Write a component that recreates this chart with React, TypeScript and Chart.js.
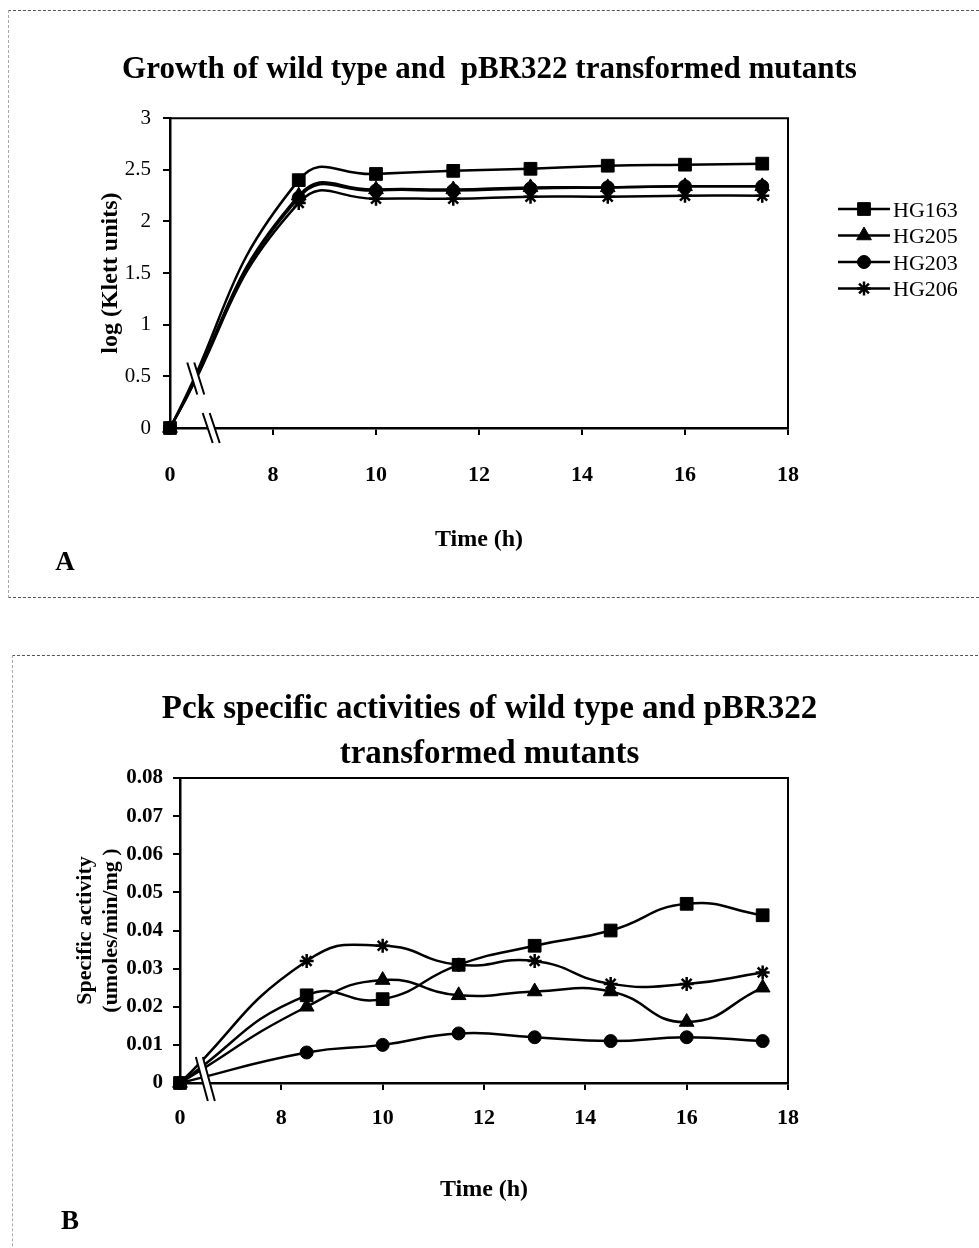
import React, { useEffect, useRef } from 'react';
import { Chart, registerables } from 'chart.js';
import { drawPoint } from 'chart.js/helpers';

Chart.register(...registerables);

const SERIF = "'Liberation Serif', 'Times New Roman', serif";

// ---------- data ----------
const TIMES_H = [0, 8.5, 10, 11.5, 13, 14.5, 16, 17.5];
const TIME_TICK_LABELS = ['0', '8', '10', '12', '14', '16', '18'];
const AXIS_BREAK_AT = 6; // axis position where time 0 is drawn (broken axis 0 // 8)

const STRAINS = ['HG163', 'HG205', 'HG203', 'HG206'];
const MARKER_STYLES = ['rect', 'triangle', 'circle', 'star'];
const MARKER_RADII = [9, 8.5, 6.5, 7];

const GROWTH_HG163 = [0, 2.4, 2.46, 2.49, 2.51, 2.54, 2.55, 2.56];
const GROWTH_HG205 = [0, 2.25, 2.31, 2.31, 2.33, 2.33, 2.34, 2.34];
const GROWTH_HG203 = [0, 2.23, 2.3, 2.3, 2.32, 2.33, 2.34, 2.34];
const GROWTH_HG206 = [0, 2.18, 2.22, 2.22, 2.24, 2.24, 2.25, 2.25];
const GROWTH_TICK_LABELS = ['0', '0.5', '1', '1.5', '2', '2.5', '3'];

const PCK_HG163 = [0, 0.023, 0.022, 0.031, 0.036, 0.04, 0.047, 0.044];
const PCK_HG205 = [0, 0.02, 0.027, 0.023, 0.024, 0.024, 0.016, 0.025];
const PCK_HG203 = [0, 0.008, 0.01, 0.013, 0.012, 0.011, 0.012, 0.011];
const PCK_HG206 = [0, 0.032, 0.036, 0.031, 0.032, 0.026, 0.026, 0.029];
const PCK_TICK_LABELS = ['0', '0.01', '0.02', '0.03', '0.04', '0.05', '0.06', '0.07', '0.08'];

const TITLE_A = 'Growth of wild type and  pBR322 transformed mutants';
const TITLE_B = ['Pck specific activities of wild type and pBR322', 'transformed mutants'];
const Y_TITLE_A = 'log (Klett units)';
const Y_TITLE_B = ['Specific activity', '(umoles/min/mg )'];
const X_TITLE = 'Time (h)';

// ---------- helpers ----------
function toPoints(values: number[]) {
  return TIMES_H.map((t, i) => ({ x: t === 0 ? AXIS_BREAK_AT : t, y: values[i] }));
}

function makeDatasets(series: number[][]) {
  return series.map((vals, i) => ({
    label: STRAINS[i],
    data: toPoints(vals),
    order: series.length - i, // later series drawn on top
    borderColor: '#000',
    borderWidth: 2.5,
    backgroundColor: '#000',
    pointStyle: MARKER_STYLES[i],
    pointRadius: MARKER_RADII[i],
    pointBackgroundColor: '#000',
    pointBorderColor: '#000',
    pointBorderWidth: MARKER_STYLES[i] === 'star' ? 2.5 : 1,
    tension: 0.5,
    clip: false,
  }));
}

function drawBreak(ctx: CanvasRenderingContext2D, cx: number, cy: number, h: number, slant: number, gap: number) {
  const x1 = cx - gap / 2;
  const x2 = cx + gap / 2;
  ctx.save();
  ctx.fillStyle = '#fff';
  ctx.beginPath();
  ctx.moveTo(x1 - slant, cy - h / 2);
  ctx.lineTo(x2 - slant, cy - h / 2);
  ctx.lineTo(x2 + slant, cy + h / 2);
  ctx.lineTo(x1 + slant, cy + h / 2);
  ctx.closePath();
  ctx.fill();
  ctx.strokeStyle = '#000';
  ctx.lineWidth = 2;
  ctx.beginPath();
  ctx.moveTo(x1 - slant, cy - h / 2);
  ctx.lineTo(x1 + slant, cy + h / 2);
  ctx.moveTo(x2 - slant, cy - h / 2);
  ctx.lineTo(x2 + slant, cy + h / 2);
  ctx.stroke();
  ctx.restore();
}

const decorPlugin = {
  id: 'decor',
  beforeDatasetsDraw(chart: any) {
    const { ctx, chartArea: a } = chart;
    ctx.save();
    ctx.strokeStyle = '#000';
    ctx.lineWidth = 2;
    ctx.beginPath();
    ctx.moveTo(a.left, a.top);
    ctx.lineTo(a.right, a.top);
    ctx.lineTo(a.right, a.bottom);
    ctx.stroke();
    ctx.restore();
  },
  afterDatasetsDraw(chart: any, _a: any, opts: any) {
    const { ctx, chartArea: a } = chart;
    const xs = chart.scales.x;
    for (const b of opts.breaks || []) {
      const cx = xs.getPixelForValue(b.at);
      let cy = a.bottom + (b.dy || 0);
      if (b.onLine) {
        const pts = chart.getDatasetMeta(0).data;
        const p0 = pts[0];
        const p1 = pts[1];
        cy = p0.y + ((cx - p0.x) / (p1.x - p0.x)) * (p1.y - p0.y);
      }
      drawBreak(ctx, cx, cy, b.h, b.slant, b.gap);
    }
  },
  afterDraw(chart: any, _a: any, opts: any) {
    const { ctx } = chart;
    const lg = opts.legend;
    if (lg) {
      chart.data.datasets.forEach((ds: any, i: number) => {
        const y = lg.y0 + i * lg.dy;
        ctx.save();
        ctx.strokeStyle = '#000';
        ctx.lineWidth = 2.5;
        ctx.beginPath();
        ctx.moveTo(lg.x0, y);
        ctx.lineTo(lg.x0 + lg.len, y);
        ctx.stroke();
        ctx.fillStyle = '#000';
        ctx.lineWidth = ds.pointStyle === 'star' ? 2.5 : 1;
        drawPoint(ctx, { pointStyle: ds.pointStyle, radius: ds.pointRadius, rotation: 0, borderWidth: ctx.lineWidth }, lg.x0 + lg.len / 2, y);
        ctx.fillStyle = '#000';
        ctx.font = `${lg.size}px ${SERIF}`;
        ctx.textAlign = 'left';
        ctx.textBaseline = 'middle';
        ctx.fillText(ds.label, lg.x0 + lg.len + lg.gap, y + 2);
        ctx.restore();
      });
    }
    const lt = opts.letter;
    if (lt) {
      ctx.save();
      ctx.fillStyle = '#000';
      ctx.font = `bold ${lt.size}px ${SERIF}`;
      ctx.textAlign = 'center';
      ctx.textBaseline = 'middle';
      ctx.fillText(lt.text, lt.x, lt.y);
      ctx.restore();
    }
  },
};

function buildConfig(p: any) {
  return {
    type: 'line',
    data: { datasets: makeDatasets(p.series) },
    plugins: [decorPlugin],
    options: {
      responsive: false,
      animation: false,
      events: [],
      layout: { padding: 0 },
      plugins: {
        legend: { display: false },
        tooltip: { enabled: false },
        title: {
          display: true,
          text: p.title,
          color: '#000',
          font: { family: SERIF, size: p.titleSize, weight: 'bold', lineHeight: p.titleLineHeight },
          padding: p.titlePadding,
        },
        decor: p.decor,
      },
      scales: {
        x: {
          type: 'linear',
          min: AXIS_BREAK_AT,
          max: 18,
          ticks: {
            stepSize: 2,
            color: '#000',
            font: { family: SERIF, size: 22, weight: 'bold' },
            padding: p.xTickPad,
            maxRotation: 0,
            callback: (_v: any, i: number) => TIME_TICK_LABELS[i],
          },
          grid: { drawOnChartArea: false, drawTicks: true, tickLength: 7, color: '#000', lineWidth: 2 },
          border: { display: true, color: '#000', width: 2.5 },
          title: {
            display: true,
            text: X_TITLE,
            color: '#000',
            font: { family: SERIF, size: 24, weight: 'bold', lineHeight: 1.2 },
            padding: { top: 0, bottom: p.xTitlePad },
          },
          afterFit: (s: any) => { s.height = p.xAxisHeight; },
        },
        y: {
          type: 'linear',
          min: 0,
          max: p.yMax,
          ticks: {
            stepSize: p.yStep,
            color: '#000',
            font: { family: SERIF, size: p.yTickSize, weight: p.yTickWeight },
            padding: p.yTickPad,
            callback: (_v: any, i: number) => p.yLabels[i],
          },
          grid: { drawOnChartArea: false, drawTicks: true, tickLength: 7, color: '#000', lineWidth: 2 },
          border: { display: true, color: '#000', width: 2.5 },
          title: {
            display: true,
            text: p.yTitle,
            color: '#000',
            font: { family: SERIF, size: p.yTitleSize, weight: 'bold', lineHeight: p.yTitleLineHeight },
            padding: { top: p.yTitlePad, bottom: 0 },
          },
          afterFit: (s: any) => { s.width = p.yAxisWidth; },
        },
        legendSpace: {
          type: 'linear',
          position: 'right',
          display: true,
          grid: { display: false },
          ticks: { display: false },
          border: { display: false },
          afterFit: (s: any) => { s.width = p.rightSpace; },
        },
      },
    },
  };
}

const CONFIG_A = {
  series: [GROWTH_HG163, GROWTH_HG205, GROWTH_HG203, GROWTH_HG206],
  title: TITLE_A,
  titleSize: 31,
  titleLineHeight: 1.2,
  titlePadding: { top: 51, bottom: 30 },
  yMax: 3,
  yStep: 0.5,
  yLabels: GROWTH_TICK_LABELS,
  yTickSize: 21,
  yTickWeight: 'normal',
  yTickPad: 12,
  yTitle: Y_TITLE_A,
  yTitleSize: 24,
  yTitleLineHeight: 1.2,
  yTitlePad: 96,
  yAxisWidth: 170,
  rightSpace: 191,
  xAxisHeight: 172,
  xTickPad: 27,
  xTitlePad: 46,
  decor: {
    breaks: [
      { at: 6.5, onLine: true, h: 32, slant: 5, gap: 7 },
      { at: 6.8, h: 30, slant: 5, gap: 7 },
    ],
    legend: { x0: 838, y0: 209, dy: 26.5, len: 52, gap: 3, size: 22 },
    letter: { text: 'A', x: 65, y: 563, size: 27 },
  },
};

const CONFIG_B = {
  series: [PCK_HG163, PCK_HG205, PCK_HG203, PCK_HG206],
  title: TITLE_B,
  titleSize: 33,
  titleLineHeight: 1.364,
  titlePadding: { top: 87, bottom: 1 },
  yMax: 0.08,
  yStep: 0.01,
  yLabels: PCK_TICK_LABELS,
  yTickSize: 21,
  yTickWeight: 'bold',
  yTickPad: 10,
  yTitle: Y_TITLE_B,
  yTitleSize: 22,
  yTitleLineHeight: 1.18,
  yTitlePad: 72,
  yAxisWidth: 180,
  rightSpace: 191,
  xAxisHeight: 165,
  xTickPad: 15,
  xTitlePad: 44,
  decor: {
    breaks: [{ at: 6.5, dy: -4, h: 44, slant: 6, gap: 7 }],
    legend: { x0: 820, y0: 882, dy: 41.5, len: 54, gap: 4, size: 23 },
    letter: { text: 'B', x: 70, y: 622, size: 27 },
  },
};

export default function App() {
  const refA = useRef<HTMLCanvasElement | null>(null);
  const refB = useRef<HTMLCanvasElement | null>(null);

  useEffect(() => {
    const a = new Chart(refA.current as any, buildConfig(CONFIG_A) as any);
    const b = new Chart(refB.current as any, buildConfig(CONFIG_B) as any);
    return () => {
      a.destroy();
      b.destroy();
    };
  }, []);

  return (
    <div style={{ position: 'absolute', left: 0, top: 0, width: 979, height: 1248, overflow: 'hidden', background: '#fff' }}>
      <div
        style={{
          position: 'absolute', left: 8, top: 10, width: 1000, height: 586,
          borderTop: '1px dashed #555', borderLeft: '1px dashed #aaa', borderBottom: '1px dashed #555',
        }}
      />
      <div
        style={{
          position: 'absolute', left: 12, top: 655, width: 1000, height: 700,
          borderTop: '1px dashed #555', borderLeft: '1px dashed #aaa',
        }}
      />
      <canvas ref={refA} width={979} height={600} style={{ position: 'absolute', left: 0, top: 0 }} />
      <canvas ref={refB} width={979} height={648} style={{ position: 'absolute', left: 0, top: 600 }} />
    </div>
  );
}
